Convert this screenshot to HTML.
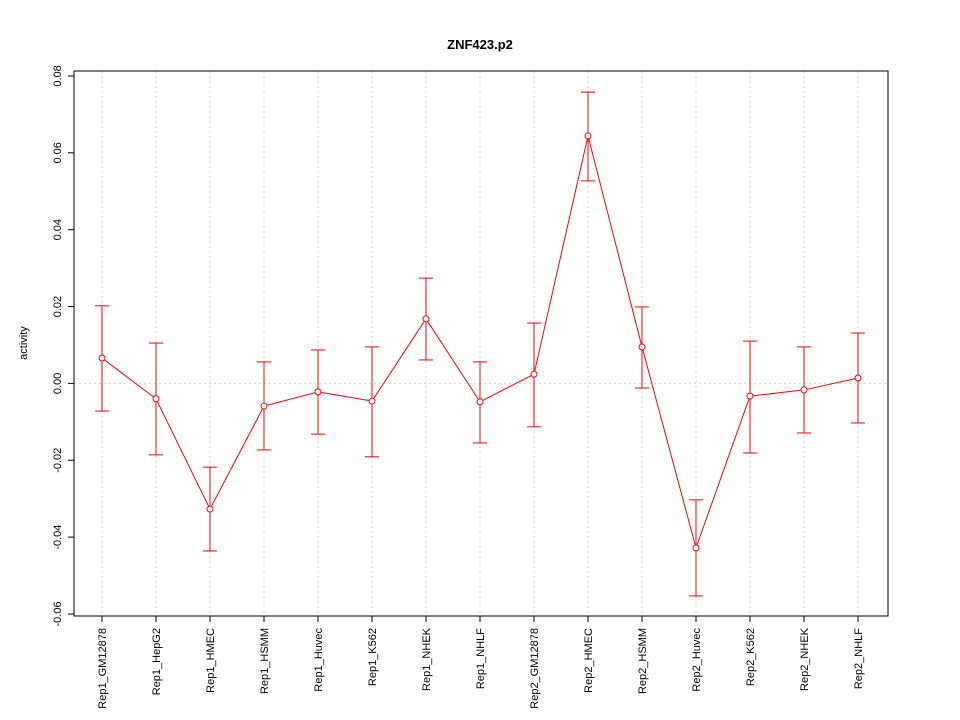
<!DOCTYPE html>
<html><head><meta charset="utf-8"><style>
body{margin:0;background:#fff;}
svg{display:block;font-family:"Liberation Sans",sans-serif;}
</style></head><body>
<svg id="chart" width="960" height="720"></svg>
<script>
const categories=["Rep1_GM12878","Rep1_HepG2","Rep1_HMEC","Rep1_HSMM","Rep1_Huvec","Rep1_K562","Rep1_NHEK","Rep1_NHLF","Rep2_GM12878","Rep2_HMEC","Rep2_HSMM","Rep2_Huvec","Rep2_K562","Rep2_NHEK","Rep2_NHLF"];
const values=[0.0066,-0.0040,-0.0327,-0.0059,-0.0022,-0.0046,0.0168,-0.0048,0.0024,0.0644,0.0095,-0.0428,-0.0033,-0.0017,0.0014];
const upper=[0.0202,0.0105,-0.0218,0.0056,0.0087,0.0095,0.0274,0.0056,0.0157,0.0758,0.0199,-0.0303,0.0110,0.0095,0.0131];
const lower=[-0.0072,-0.0186,-0.0436,-0.0173,-0.0132,-0.0191,0.0061,-0.0155,-0.0113,0.0527,-0.0012,-0.0553,-0.0181,-0.0129,-0.0103];
const yTicks=[-0.06,-0.04,-0.02,0.00,0.02,0.04,0.06,0.08];
const yTickLabels=["-0.06","-0.04","-0.02","0.00","0.02","0.04","0.06","0.08"];

const svg=document.getElementById('chart');
const NS='http://www.w3.org/2000/svg';
function el(tag,attrs,parent){const e=document.createElementNS(NS,tag);for(const k in attrs)e.setAttribute(k,attrs[k]);(parent||svg).appendChild(e);return e;}
const y=v=>383.4-v*3843;
const x=i=>102+i*54;
const L=74,R=888,T=71,B=616;

let t=el('text',{x:480,y:49,'text-anchor':'middle','font-size':13,'font-weight':'bold'});t.textContent='ZNF423.p2';



// grid
categories.forEach((c,i)=>{const g=el('line',{x1:x(i),x2:x(i),y1:T,y2:B,stroke:'#d3d3d3','stroke-dasharray':'2,3'});

});
const z=el('line',{x1:L,x2:R,y1:y(0),y2:y(0),stroke:'#d3d3d3','stroke-dasharray':'2,3'});



const box=el('rect',{x:L,y:T,width:R-L,height:B-T,fill:'none',stroke:'#000'});



// y axis
yTicks.forEach((v,i)=>{
 const tk=el('line',{x1:L-6,x2:L,y1:y(v),y2:y(v),stroke:'#000'});
 
 
 const lb=el('text',{x:0,y:0,transform:`translate(${L-13},${y(v)}) rotate(-90)`,'text-anchor':'middle','font-size':11});
 lb.textContent=yTickLabels[i];
 
 
});
const yt=el('text',{x:0,y:0,transform:'translate(27,343) rotate(-90)','text-anchor':'middle','font-size':11});yt.textContent='activity';



// x axis
categories.forEach((c,i)=>{
 const tk=el('line',{x1:x(i),x2:x(i),y1:B,y2:B+6,stroke:'#000'});
 
 
 const lb=el('text',{x:0,y:0,transform:`translate(${x(i)+4},${B+12}) rotate(-90)`,'text-anchor':'end','font-size':11});
 lb.textContent=c;
 
 
});

// line
const pl=el('polyline',{points:values.map((v,i)=>x(i)+','+y(v)).join(' '),fill:'none',stroke:'#ff0000'});



values.forEach((v,i)=>{
 const g=el('g',{});
 
 
 el('line',{x1:x(i),x2:x(i),y1:y(upper[i]),y2:y(lower[i]),stroke:'#ff0000'},g);
 el('line',{x1:x(i)-7,x2:x(i)+7,y1:y(upper[i]),y2:y(upper[i]),stroke:'#ff0000'},g);
 el('line',{x1:x(i)-7,x2:x(i)+7,y1:y(lower[i]),y2:y(lower[i]),stroke:'#ff0000'},g);
 const p=el('circle',{cx:x(i),cy:y(v),r:3,fill:'#fff',stroke:'#ff0000'});
 
 
});
</script>
</body></html>
